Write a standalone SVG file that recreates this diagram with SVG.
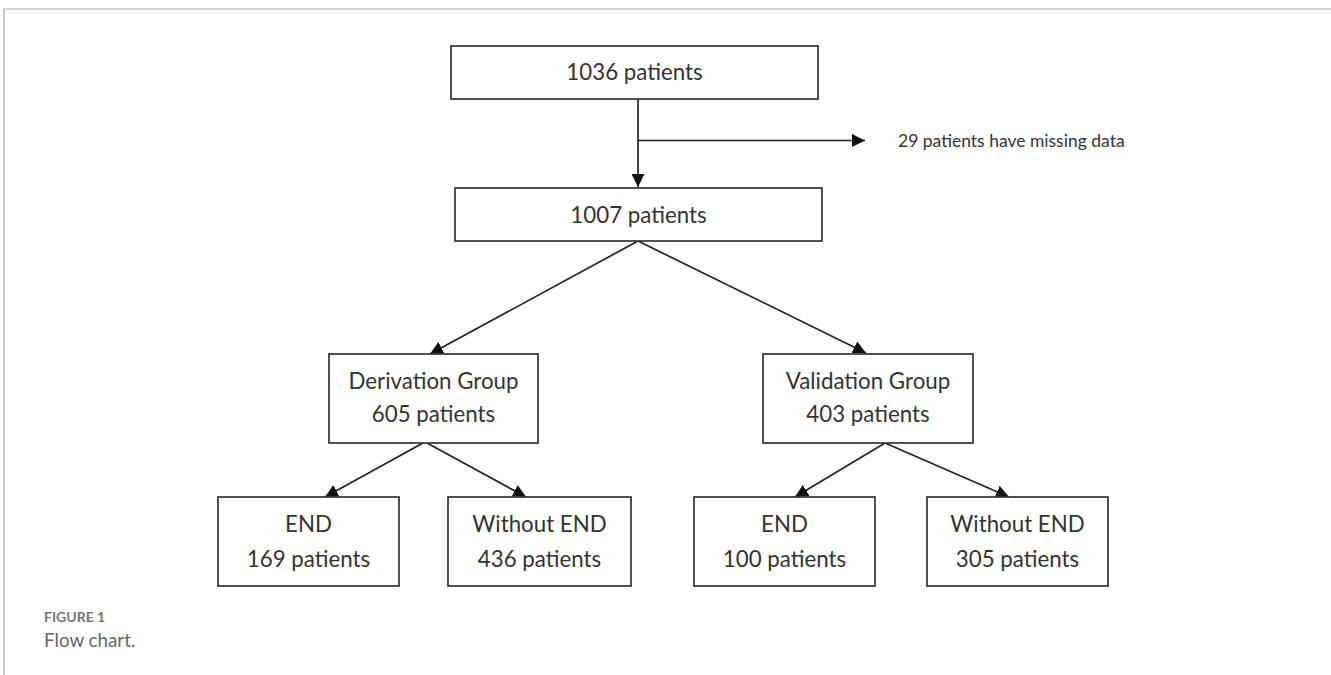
<svg xmlns="http://www.w3.org/2000/svg" width="1331" height="675" viewBox="0 0 1331 675">
<style>
.box{fill:#fff;stroke:#333;stroke-width:1.7}
.t{font-family:Lato,"Noto Sans",sans-serif;font-size:22.3px;fill:#333;text-anchor:middle}
.c{stroke:#222;stroke-width:1.7;fill:none}
</style>
<defs>
<marker id="ah" viewBox="0 0 10 10" refX="10" refY="5" markerWidth="13" markerHeight="13" markerUnits="userSpaceOnUse" orient="auto">
<path d="M0,0 L10,5 L0,10 z" fill="#111"/>
</marker>
</defs>
<rect width="1331" height="675" fill="#fff"/>
<path d="M4,675 V9 H1331" fill="none" stroke="#aaa" stroke-width="1.2"/>
<g id="connectors">
<line class="c" x1="638" y1="99" x2="638" y2="187" marker-end="url(#ah)"/>
<line class="c" x1="638" y1="140.5" x2="865" y2="140.5" marker-end="url(#ah)"/>
<line class="c" x1="638" y1="241" x2="430" y2="354" marker-end="url(#ah)"/>
<line class="c" x1="638" y1="241" x2="866" y2="353" marker-end="url(#ah)"/>
<line class="c" x1="423" y1="443" x2="325" y2="497" marker-end="url(#ah)"/>
<line class="c" x1="427" y1="443" x2="526" y2="497" marker-end="url(#ah)"/>
<line class="c" x1="885" y1="443" x2="795" y2="497" marker-end="url(#ah)"/>
<line class="c" x1="885" y1="443" x2="1009" y2="497" marker-end="url(#ah)"/>
</g>
<g id="n1036"><rect class="box" x="451" y="46" width="367" height="53"/><text class="t" x="634.5" y="80">1036 patients</text></g>
<g id="missing"><text x="898" y="147" font-family="Lato,'Noto Sans',sans-serif" font-size="17.5" fill="#333">29 patients have missing data</text></g>
<g id="n1007"><rect class="box" x="455" y="188" width="367" height="53"/><text class="t" x="638.5" y="222.5">1007 patients</text></g>
<g id="derivation"><rect class="box" x="329" y="354" width="209" height="89"/><text class="t" x="433.5" y="389">Derivation Group</text><text class="t" x="433.5" y="422">605 patients</text></g>
<g id="validation"><rect class="box" x="763" y="354" width="210" height="89"/><text class="t" x="868" y="389">Validation Group</text><text class="t" x="868" y="422">403 patients</text></g>
<g id="endL"><rect class="box" x="218" y="497" width="181" height="89"/><text class="t" x="308.5" y="531.5">END</text><text class="t" x="308.5" y="566.5">169 patients</text></g>
<g id="noendL"><rect class="box" x="448" y="497" width="183" height="89"/><text class="t" x="539.5" y="531.5">Without END</text><text class="t" x="539.5" y="566.5">436 patients</text></g>
<g id="endR"><rect class="box" x="694" y="497" width="181" height="89"/><text class="t" x="784.5" y="531.5">END</text><text class="t" x="784.5" y="566.5">100 patients</text></g>
<g id="noendR"><rect class="box" x="927" y="497" width="181" height="89"/><text class="t" x="1017.5" y="531.5">Without END</text><text class="t" x="1017.5" y="566.5">305 patients</text></g>
<g id="caption">
<text x="44" y="622" font-family="Lato,'Noto Sans',sans-serif" font-size="14" font-weight="bold" fill="#777">FIGURE 1</text>
<text x="44" y="647" font-family="Lato,'Noto Sans',sans-serif" font-size="18.8" fill="#666">Flow chart.</text>
</g>
</svg>
